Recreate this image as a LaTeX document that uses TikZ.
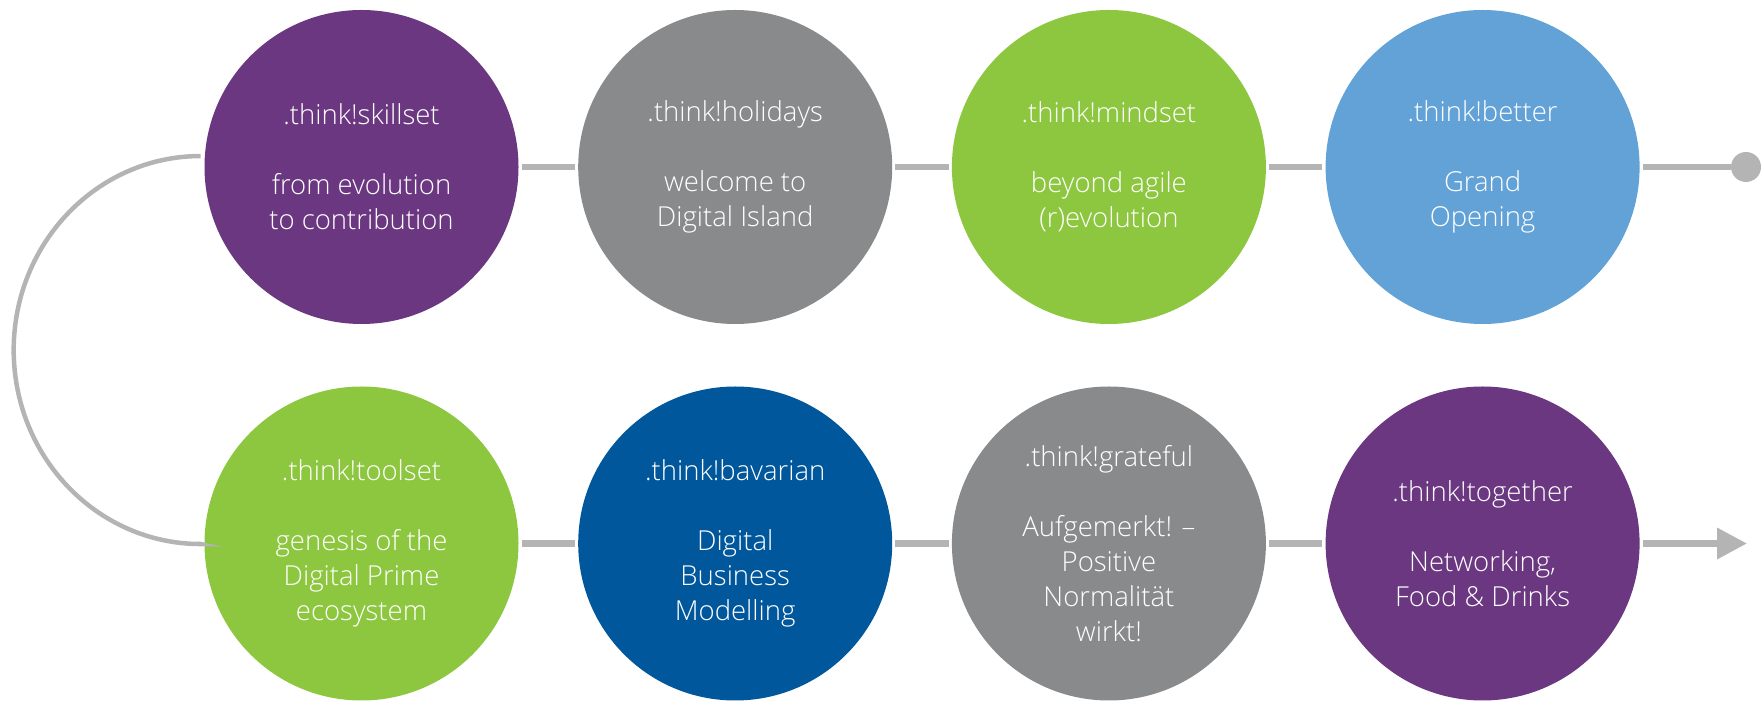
\documentclass[tikz,border=0pt]{standalone}
\usepackage{fontspec}
\setmainfont{Open Sans}[UprightFont=* Light]
\usetikzlibrary{arrows.meta}
\definecolor{cpurple}{RGB}{106,55,128}
\definecolor{cgray}{RGB}{137,138,140}
\definecolor{cgreen}{RGB}{141,198,63}
\definecolor{clight}{RGB}{98,162,214}
\definecolor{cnavy}{RGB}{0,87,155}
\definecolor{cline}{RGB}{180,180,180}
\begin{document}
\begin{tikzpicture}[x=1pt,y=1pt,
  stage/.style={circle, minimum size=314pt, inner sep=0pt, text=white, align=center,
    font=\fontsize{27.5}{35}\selectfont},
  link/.style={draw=cline, line width=6.5pt, shorten <=3pt, shorten >=3pt},
  loopline/.style={draw=cline, line width=4.5pt}]
\useasboundingbox (0,0) rectangle (1761,701);
% top row
\node[stage, fill=cpurple] (t1) at (361.5,534) {.think!skillset\\[35pt]from evolution\\to contribution};
\node[stage, fill=cgray]   (t2) at (735.2,534) {.think!holidays\\[35pt]welcome to\\Digital Island};
\node[stage, fill=cgreen]  (t3) at (1108.9,534) {.think!mindset\\[35pt]beyond agile\\(r)evolution};
\node[stage, fill=clight]  (t4) at (1482.6,534) {.think!better\\[35pt]Grand\\Opening};
% bottom row
\node[stage, fill=cgreen]  (b1) at (361.5,157.5) {.think!toolset\\[35pt]genesis of the\\Digital Prime\\ecosystem};
\node[stage, fill=cnavy]   (b2) at (735.2,157.5) {.think!bavarian\\[35pt]Digital\\Business\\Modelling};
\node[stage, fill=cgray]   (b3) at (1108.9,157.5) {.think!grateful\\[35pt]Aufgemerkt! –\\Positive\\Normalität\\wirkt!};
\node[stage, fill=cpurple] (b4) at (1482.6,157.5) {.think!together\\[35pt]Networking,\\Food \& Drinks};
% end markers
\node[circle, fill=cline, minimum size=30pt, inner sep=0pt] (enddot) at (1746,534) {};
\coordinate (arrowend) at (1747,157.5);
% connectors
\draw[link] (t1) -- (t2);
\draw[link] (t2) -- (t3);
\draw[link] (t3) -- (t4);
\draw[link, shorten >=0pt] (t4) -- (enddot);
\draw[link] (b1) -- (b2);
\draw[link] (b2) -- (b3);
\draw[link] (b3) -- (b4);
\draw[link, shorten >=0pt, -{Triangle[length=30pt,width=30pt]}] (b4) -- (arrowend);
\draw[loopline] ([xshift=-4pt]t1.176) arc[start angle=90, end angle=270, x radius=187, y radius=194] -- ([xshift=-6pt]b1.west);
\end{tikzpicture}
\end{document}
